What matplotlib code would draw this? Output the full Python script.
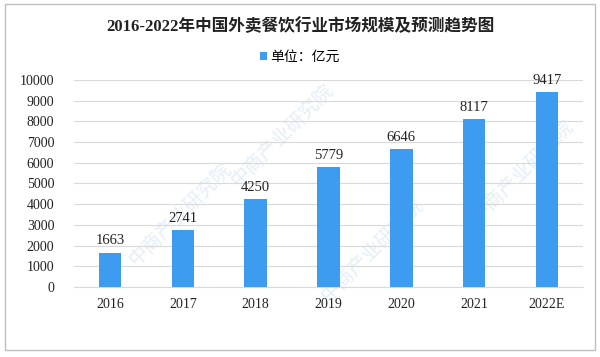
import matplotlib
matplotlib.use("Agg")
import matplotlib.pyplot as plt
from matplotlib.patches import Rectangle

years = ["2016", "2017", "2018", "2019", "2020", "2021", "2022E"]
values = [1663, 2741, 4250, 5779, 6646, 8117, 9417]
yticks = list(range(0, 10001, 1000))

plt.rcParams['font.family'] = ['Liberation Serif', 'Noto Sans CJK SC']

fig = plt.figure(figsize=(6.0, 3.57), dpi=100)
ax = fig.add_axes([0.123, 0.196, 0.849, 0.58])

# faint watermark, kept inside the frame
for wx, wy in [(0.30, 0.40), (0.62, 0.30), (0.87, 0.52), (0.47, 0.62)]:
    fig.text(wx, wy, "中商产业研究院", rotation=45, fontsize=14, color="#e4eef8",
             family=["Noto Sans CJK SC"], ha="center", va="center", zorder=-1)

x = range(len(years))
ax.bar(x, values, width=0.31, color="#3d9cf0", zorder=3, label="单位：亿元")
for xi, v in zip(x, values):
    ax.text(xi, v + 250, str(v), ha="center", va="bottom", fontsize=10.5, color="#222222")

ax.set_xlim(-0.5, len(years) - 0.5)
ax.set_ylim(0, 10000)
ax.set_yticks(yticks)
ax.set_xticks(list(x))
ax.set_xticklabels(years)
ax.yaxis.grid(True, color="#d9d9d9", linewidth=0.8, zorder=0)
for s in ["top", "right", "left"]:
    ax.spines[s].set_visible(False)
ax.spines["bottom"].set_color("#d9d9d9")
ax.tick_params(axis="both", length=0, labelsize=10, colors="#222222")
ax.tick_params(axis="x", pad=8)
ax.tick_params(axis="y", pad=14)
ax.patch.set_alpha(0)

fig.text(0.5, 0.925, "2016-2022年中国外卖餐饮行业市场规模及预测趋势图", ha="center", va="center",
         fontsize=12, fontweight="bold", color="#222222")
leg = fig.legend(loc="center", bbox_to_anchor=(0.5, 0.84), frameon=False,
                 handlelength=0.5, handleheight=0.5, handletextpad=0.2,
                 prop={"family": ["Noto Sans CJK SC"], "size": 10})

fig.patches.append(Rectangle((0.008, 0.02), 0.984, 0.97, transform=fig.transFigure,
                             fill=False, edgecolor="#bfbfbf", linewidth=1))

fig.savefig("out.png", dpi=100)
